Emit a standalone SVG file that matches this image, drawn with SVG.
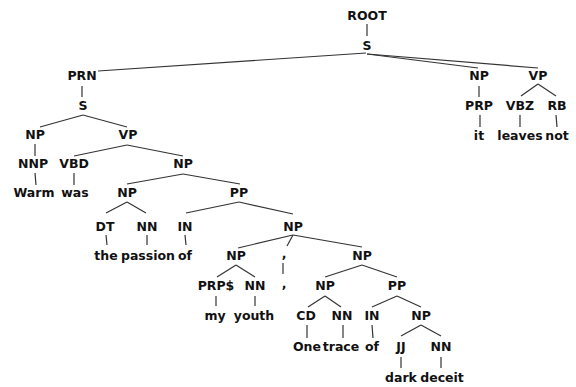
<svg xmlns="http://www.w3.org/2000/svg" width="576" height="387" viewBox="0 0 576 387">
<style>
text{font-family:"DejaVu Sans","Liberation Sans",sans-serif;font-weight:bold;font-size:12.5px;fill:#111;text-anchor:middle}
line{stroke:#333;stroke-width:1.2}
</style>
<rect width="576" height="387" fill="#fff"/>
<g id="connectors">
<line x1="367" y1="24" x2="367" y2="36"/>
<line x1="366" y1="53" x2="98" y2="71"/>
<line x1="367" y1="54" x2="478" y2="68"/>
<line x1="367" y1="54" x2="538" y2="68"/>
<line x1="479" y1="86" x2="479" y2="97"/>
<line x1="538" y1="84" x2="521" y2="96"/>
<line x1="538" y1="84" x2="556" y2="96"/>
<line x1="480" y1="115" x2="480" y2="127"/>
<line x1="520" y1="115" x2="520" y2="127"/>
<line x1="556" y1="115" x2="557" y2="127"/>
<line x1="82" y1="86" x2="82" y2="97"/>
<line x1="83" y1="115" x2="40" y2="127"/>
<line x1="83" y1="115" x2="127" y2="127"/>
<line x1="35" y1="144" x2="35" y2="156"/>
<line x1="127" y1="145" x2="74" y2="156"/>
<line x1="127" y1="145" x2="183" y2="156"/>
<line x1="35" y1="173" x2="36" y2="185"/>
<line x1="74" y1="173" x2="74" y2="185"/>
<line x1="183" y1="174" x2="127" y2="184"/>
<line x1="183" y1="174" x2="240" y2="184"/>
<line x1="127" y1="202" x2="106" y2="213"/>
<line x1="127" y1="202" x2="146" y2="213"/>
<line x1="239" y1="202" x2="186" y2="213"/>
<line x1="239" y1="202" x2="293" y2="214"/>
<line x1="106" y1="235" x2="107" y2="245"/>
<line x1="147" y1="235" x2="147" y2="245"/>
<line x1="185" y1="235" x2="186" y2="245"/>
<line x1="293" y1="235" x2="238" y2="248"/>
<line x1="293" y1="235" x2="287" y2="246"/>
<line x1="293" y1="235" x2="362" y2="247"/>
<line x1="283" y1="263" x2="283" y2="274"/>
<line x1="236" y1="265" x2="217" y2="277"/>
<line x1="236" y1="265" x2="255" y2="277"/>
<line x1="216" y1="296" x2="216" y2="306"/>
<line x1="255" y1="296" x2="255" y2="306"/>
<line x1="362" y1="265" x2="325" y2="277"/>
<line x1="362" y1="265" x2="397" y2="277"/>
<line x1="325" y1="296" x2="308" y2="307"/>
<line x1="325" y1="296" x2="341" y2="307"/>
<line x1="397" y1="296" x2="372" y2="307"/>
<line x1="397" y1="296" x2="421" y2="307"/>
<line x1="307" y1="325" x2="307" y2="338"/>
<line x1="343" y1="325" x2="343" y2="338"/>
<line x1="372" y1="325" x2="373" y2="338"/>
<line x1="421" y1="325" x2="401" y2="336"/>
<line x1="421" y1="325" x2="441" y2="336"/>
<line x1="401" y1="357" x2="401" y2="368"/>
<line x1="441" y1="357" x2="441" y2="368"/>
</g>
<g id="n-root"><text x="367" y="20">ROOT</text></g>
<g id="n-s"><text x="367" y="50">S</text></g>
<g id="n-prn"><text x="82" y="80">PRN</text></g>
<g id="n-np-it"><text x="479" y="80">NP</text></g>
<g id="n-vp-top"><text x="538" y="80">VP</text></g>
<g id="n-prp"><text x="479" y="110">PRP</text></g>
<g id="n-vbz"><text x="520" y="110">VBZ</text></g>
<g id="n-rb"><text x="557" y="110">RB</text></g>
<g id="w-it"><text x="479" y="140">it</text></g>
<g id="w-leaves"><text x="520" y="140">leaves</text></g>
<g id="w-not"><text x="557" y="140">not</text></g>
<g id="n-s2"><text x="83" y="110">S</text></g>
<g id="n-np1"><text x="35" y="139">NP</text></g>
<g id="n-vp1"><text x="128" y="139">VP</text></g>
<g id="n-nnp"><text x="33" y="168">NNP</text></g>
<g id="n-vbd"><text x="74" y="168">VBD</text></g>
<g id="n-np2"><text x="183" y="168">NP</text></g>
<g id="w-warm"><text x="34" y="197">Warm</text></g>
<g id="w-was"><text x="75" y="197">was</text></g>
<g id="n-np3"><text x="127" y="197">NP</text></g>
<g id="n-pp1"><text x="239" y="197">PP</text></g>
<g id="n-dt"><text x="105" y="231">DT</text></g>
<g id="n-nn1"><text x="147" y="231">NN</text></g>
<g id="n-in1"><text x="185" y="231">IN</text></g>
<g id="n-np4"><text x="293" y="231">NP</text></g>
<g id="w-the"><text x="106" y="260">the</text></g>
<g id="w-passion"><text x="148" y="260">passion</text></g>
<g id="w-of1"><text x="185" y="260">of</text></g>
<g id="n-np5"><text x="236" y="260">NP</text></g>
<g id="n-comma"><text x="284" y="258">,</text></g>
<g id="n-np6"><text x="362" y="260">NP</text></g>
<g id="n-prps"><text x="216" y="290">PRP$</text></g>
<g id="n-nn2"><text x="255" y="290">NN</text></g>
<g id="w-comma"><text x="284" y="288">,</text></g>
<g id="n-np7"><text x="325" y="290">NP</text></g>
<g id="n-pp2"><text x="397" y="290">PP</text></g>
<g id="w-my"><text x="215" y="320">my</text></g>
<g id="w-youth"><text x="254" y="320">youth</text></g>
<g id="n-cd"><text x="306" y="320">CD</text></g>
<g id="n-nn3"><text x="342" y="320">NN</text></g>
<g id="n-in2"><text x="372" y="320">IN</text></g>
<g id="n-np8"><text x="421" y="320">NP</text></g>
<g id="w-one"><text x="307" y="351">One</text></g>
<g id="w-trace"><text x="341" y="351">trace</text></g>
<g id="w-of2"><text x="372" y="351">of</text></g>
<g id="n-jj"><text x="401" y="351">JJ</text></g>
<g id="n-nn4"><text x="441" y="351">NN</text></g>
<g id="w-dark"><text x="401" y="382">dark</text></g>
<g id="w-deceit"><text x="442" y="382">deceit</text></g>
</svg>
